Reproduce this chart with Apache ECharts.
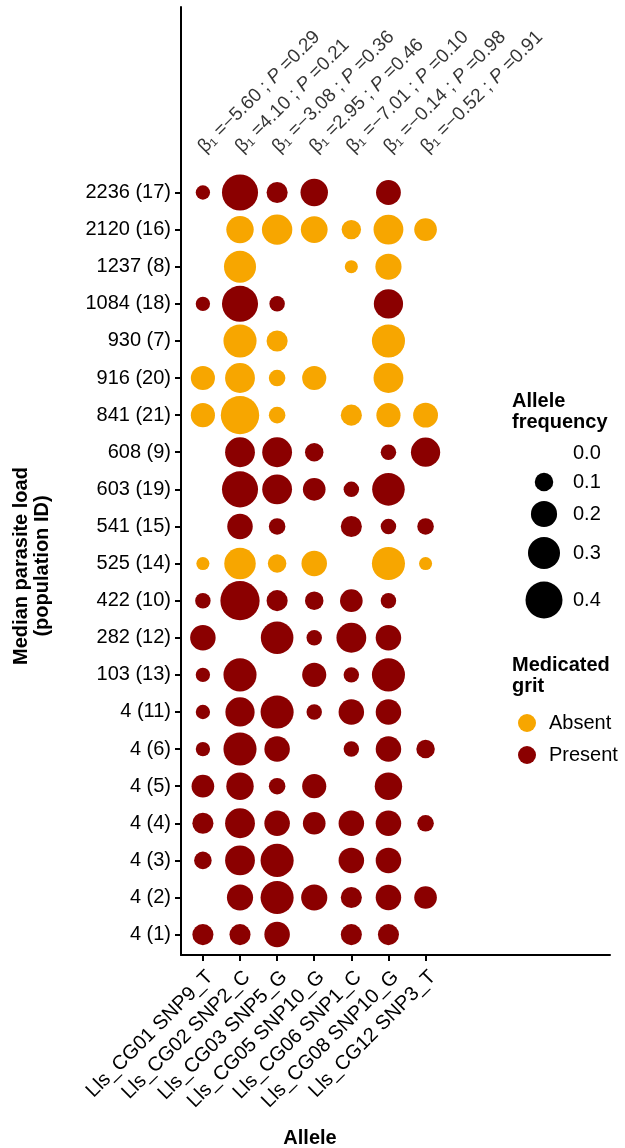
<!DOCTYPE html>
<html>
<head>
<meta charset="utf-8">
<script src="https://cdn.jsdelivr.net/npm/echarts@6/dist/echarts.min.js"></script>
<style>
  html, body { margin: 0; padding: 0; background: #fff; }
  #chart { width: 625px; height: 1148px; }
</style>
</head>
<body>
<div id="chart"></div>
<script>
// alleles (x axis) and per-allele regression results
const alleles = ['Lls_CG01 SNP9_T', 'Lls_CG02 SNP2_C', 'Lls_CG03 SNP5_G', 'Lls_CG05 SNP10_G',
  'Lls_CG06 SNP1_C', 'Lls_CG08 SNP10_G', 'Lls_CG12 SNP3_T'];
const betas = ['\u22125.60', '4.10', '\u22123.08', '2.95', '\u22127.01', '\u22120.14', '\u22120.52'];
const pValues = ['0.29', '0.21', '0.36', '0.46', '0.10', '0.98', '0.91'];

// populations, bottom to top
const populations = ['4 (1)', '4 (2)', '4 (3)', '4 (4)', '4 (5)', '4 (6)', '4 (11)', '103 (13)',
  '282 (12)', '422 (10)', '525 (14)', '541 (15)', '603 (19)', '608 (9)', '841 (21)', '916 (20)',
  '930 (7)', '1084 (18)', '1237 (8)', '2120 (16)', '2236 (17)'];
const grit = ['Present', 'Present', 'Present', 'Present', 'Present', 'Present', 'Present', 'Present',
  'Present', 'Present', 'Absent', 'Present', 'Present', 'Present', 'Absent', 'Absent',
  'Absent', 'Present', 'Absent', 'Absent', 'Present'];

// allele frequency per population (same order as populations), null = not found
const cg01 = [0.13, null, 0.09, 0.13, 0.15, 0.06, 0.06, 0.06, 0.19, 0.07, 0.05, null, null, null, 0.17, 0.17, null, 0.06, null, null, 0.06];
const cg02 = [0.13, 0.20, 0.26, 0.26, 0.22, 0.32, 0.25, 0.32, null, 0.45, 0.29, 0.19, 0.38, 0.26, 0.43, 0.26, 0.32, 0.38, 0.30, 0.22, 0.38];
const cg03 = [0.19, 0.32, 0.32, 0.19, 0.08, 0.19, 0.32, null, 0.31, 0.13, 0.10, 0.08, 0.26, 0.26, 0.08, 0.08, 0.13, 0.07, null, 0.27, 0.13];
const cg05 = [null, 0.20, null, 0.15, 0.17, null, 0.07, 0.17, 0.07, 0.10, 0.19, null, 0.15, 0.10, null, 0.17, null, null, null, 0.21, 0.22];
const cg06 = [0.13, 0.13, 0.19, 0.19, null, 0.07, 0.19, 0.07, 0.26, 0.15, null, 0.13, 0.07, null, 0.13, null, null, null, 0.05, 0.11, null];
const cg08 = [0.13, 0.19, 0.19, 0.19, 0.22, 0.19, 0.19, 0.32, 0.19, 0.07, 0.32, 0.07, 0.31, 0.07, 0.17, 0.26, 0.32, 0.25, 0.20, 0.26, 0.18];
const cg12 = [null, 0.15, null, 0.08, null, 0.10, null, null, null, null, 0.05, 0.08, null, 0.25, 0.18, null, null, null, null, 0.15, null];

const sizeLegendValues = [0.0, 0.1, 0.2, 0.3, 0.4];

const freqByAllele = [cg01, cg02, cg03, cg05, cg06, cg08, cg12];
const colors = { Absent: '#F7A600', Present: '#8B0000' };
const FONT = 'Liberation Sans, Arial, sans-serif';

// area-proportional bubble size
const bubble = v => 58.5 * Math.sqrt(v);

const absentData = [];
const presentData = [];
freqByAllele.forEach((col, j) => {
  col.forEach((v, i) => {
    if (v === null) return;
    (grit[i] === 'Absent' ? absentData : presentData).push([j, i, v]);
  });
});

const annotData = alleles.map((a, j) => ({
  value: [j - 0.04, 21.15],
  label: { formatter: '{t|\u03b2\u2081 =' + betas[j] + ' ; }{i|P}{t| =' + pValues[j] + '}' }
}));

const chart = echarts.init(document.getElementById('chart'));

const idx = n => Array.from({ length: n }, (_, k) => k);

// size legend graphics
const sizeY = [453, 482, 514, 553, 600];
const sizeGraphics = [];
sizeLegendValues.forEach((v, k) => {
  if (v > 0) {
    sizeGraphics.push({
      type: 'circle', shape: { cx: 544, cy: sizeY[k], r: bubble(v) / 2 },
      style: { fill: '#000' }
    });
  }
  sizeGraphics.push({
    type: 'text', x: 573, y: sizeY[k],
    style: { text: v.toFixed(1), font: '20px ' + FONT, fill: '#000', verticalAlign: 'middle' }
  });
});

const option = {
  animation: false,
  grid: { left: 181, right: 15, top: 7, bottom: 193, containLabel: false },
  xAxis: {
    type: 'value', min: -0.59, max: 10.97,
    splitLine: { show: false },
    axisLine: { show: true, onZero: false, lineStyle: { color: '#000', width: 2 } },
    axisTick: { show: true, customValues: idx(alleles.length), length: 6, lineStyle: { color: '#000', width: 2 } },
    axisLabel: {
      customValues: idx(alleles.length), rotate: 45, margin: 12, verticalAlign: 'top',
      fontSize: 20, fontFamily: FONT, color: '#000',
      formatter: v => alleles[v]
    }
  },
  yAxis: {
    type: 'value', min: -0.55, max: 25.0,
    splitLine: { show: false },
    axisLine: { show: true, onZero: false, lineStyle: { color: '#000', width: 2 } },
    axisTick: { show: true, customValues: idx(populations.length), length: 6, lineStyle: { color: '#000', width: 2 } },
    axisLabel: {
      customValues: idx(populations.length), margin: 10,
      fontSize: 20, fontFamily: FONT, color: '#000',
      formatter: v => populations[v]
    }
  },
  legend: {
    data: ['Absent', 'Present'],
    orient: 'vertical', left: 513, top: 708,
    icon: 'circle', itemWidth: 34, itemHeight: 18, itemGap: 12,
    selectedMode: false,
    textStyle: { fontSize: 20, fontFamily: FONT, color: '#000' }
  },
  series: [
    {
      name: 'Absent', type: 'scatter', data: absentData,
      symbolSize: d => bubble(d[2]),
      itemStyle: { color: colors.Absent, opacity: 1 }
    },
    {
      name: 'Present', type: 'scatter', data: presentData,
      symbolSize: d => bubble(d[2]),
      itemStyle: { color: colors.Present, opacity: 1 }
    },
    {
      name: 'annot', type: 'scatter', data: annotData, symbolSize: 0, silent: true,
      label: {
        show: true, position: 'inside', rotate: 45, align: 'left', verticalAlign: 'middle',
        rich: {
          t: { fontSize: 19, fontFamily: FONT, color: '#000' },
          i: { fontSize: 19, fontFamily: FONT, fontStyle: 'italic', color: '#000' }
        }
      }
    }
  ],
  graphic: [
    {
      type: 'text', x: 32, y: 566, rotation: Math.PI / 2,
      style: {
        text: 'Median parasite load\n(population ID)', font: 'bold 20px ' + FONT, fill: '#000',
        align: 'center', verticalAlign: 'middle', lineHeight: 21
      }
    },
    {
      type: 'text', x: 310, y: 1138,
      style: { text: 'Allele', font: 'bold 20px ' + FONT, fill: '#000', align: 'center', verticalAlign: 'middle' }
    },
    {
      type: 'text', x: 512, y: 412,
      style: { text: 'Allele\nfrequency', font: 'bold 20px ' + FONT, fill: '#000', verticalAlign: 'middle', lineHeight: 21 }
    },
    {
      type: 'text', x: 512, y: 676,
      style: { text: 'Medicated\ngrit', font: 'bold 20px ' + FONT, fill: '#000', verticalAlign: 'middle', lineHeight: 21 }
    }
  ].concat(sizeGraphics)
};

chart.setOption(option);
</script>
</body>
</html>
